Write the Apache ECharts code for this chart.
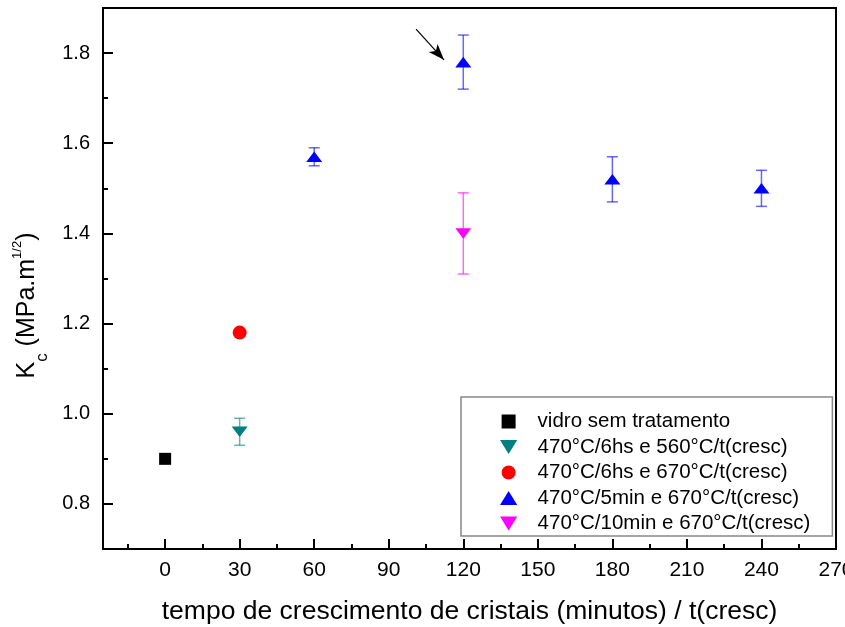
<!DOCTYPE html>
<html>
<head>
<meta charset="utf-8">
<script src="https://cdn.jsdelivr.net/npm/echarts@6/dist/echarts.min.js"></script>
<style>
  html, body { margin: 0; padding: 0; background: #fff; }
  #chart { width: 845px; height: 627px; }
</style>
</head>
<body>
<div id="chart"></div>
<script>
// Fracture toughness Kc versus crystal growth time, per heat-treatment route.
const seriesNames = [
  'vidro sem tratamento',
  '470°C/6hs e 560°C/t(cresc)',
  '470°C/6hs e 670°C/t(cresc)',
  '470°C/5min e 670°C/t(cresc)',
  '470°C/10min e 670°C/t(cresc)'
];

// Untreated glass
const tempoVidro = [0];
const kcVidro = [0.90];

// 470°C/6hs + 560°C
const tempo6h560 = [30];
const kc6h560 = [0.96];
const err6h560 = [0.03];

// 470°C/6hs + 670°C
const tempo6h670 = [30];
const kc6h670 = [1.18];

// 470°C/5min + 670°C
const tempo5min = [60, 120, 180, 240];
const kc5min = [1.57, 1.78, 1.52, 1.50];
const err5min = [0.02, 0.06, 0.05, 0.04];

// 470°C/10min + 670°C
const tempo10min = [120];
const kc10min = [1.40];
const err10min = [0.09];

// Axis ticks
const xMajorTicks = [0, 30, 60, 90, 120, 150, 180, 210, 240, 270];
const xMinorTicks = [-15, 15, 45, 75, 105, 135, 165, 195, 225, 255];
const yMajorTicks = [0.8, 1.0, 1.2, 1.4, 1.6, 1.8];
const yMinorTicks = [0.9, 1.1, 1.3, 1.5, 1.7];

// Arrow pointing at the maximum (data coordinates)
const arrowFrom = [101, 1.853];
const arrowTo = [112.2, 1.785];

const FONT = "'Liberation Sans', Arial, sans-serif";
const squareSym = 'path://M0,0L12,0L12,12L0,12Z';
const downTriangle = 'path://M0,0L16,0L8,13Z';
const upTriangle = 'path://M8,0L16,13L0,13Z';

function pairs(xs, ys) { return xs.map((x, i) => [x, ys[i]]); }
function errRows(xs, ys, es) { return xs.map((x, i) => [x, ys[i] - es[i], ys[i] + es[i]]); }

function errorBarSeries(rows, color) {
  return {
    type: 'custom',
    xAxisIndex: 0, yAxisIndex: 0,
    z: 1,
    silent: true,
    data: rows,
    renderItem: function (params, api) {
      const x = api.value(0);
      const lo = api.coord([x, api.value(1)]);
      const hi = api.coord([x, api.value(2)]);
      const half = 5.5;
      const style = { stroke: color, lineWidth: 1.5, opacity: 0.6 };
      return {
        type: 'group',
        children: [
          { type: 'line', shape: { x1: lo[0], y1: lo[1], x2: hi[0], y2: hi[1] }, style: style },
          { type: 'line', shape: { x1: lo[0] - half, y1: lo[1], x2: lo[0] + half, y2: lo[1] }, style: style },
          { type: 'line', shape: { x1: hi[0] - half, y1: hi[1], x2: hi[0] + half, y2: hi[1] }, style: style }
        ]
      };
    }
  };
}

const chart = echarts.init(document.getElementById('chart'), null, { renderer: 'canvas' });

const axisLineStyle = { color: '#000', width: 2 };

chart.setOption({
  animation: false,
  backgroundColor: '#fff',
  textStyle: { fontFamily: FONT },
  grid: {
    left: 103, top: 8, width: 733, height: 541,
    containLabel: false,
    outerBoundsMode: 'none',
    show: true, borderColor: '#000', borderWidth: 2, backgroundColor: 'transparent'
  },
  xAxis: [
    {
      type: 'value', min: -25, max: 270,
      axisLine: { show: true, onZero: false, lineStyle: axisLineStyle },
      axisTick: { show: true, inside: true, length: 10, lineStyle: { color: '#000', width: 2 }, customValues: xMajorTicks },
      axisLabel: { show: true, customValues: xMajorTicks, margin: 11, color: '#000', fontSize: 21, fontFamily: FONT },
      splitLine: { show: false },
      name: 'tempo de crescimento de cristais (minutos) / t(cresc)',
      nameLocation: 'middle', nameGap: 49,
      nameTextStyle: { fontSize: 26.5, color: '#000', fontFamily: FONT }
    },
    {
      type: 'value', min: -25, max: 270, position: 'bottom',
      axisLine: { show: false, onZero: false },
      axisTick: { show: true, inside: true, length: 5, lineStyle: { color: '#000', width: 2 }, customValues: xMinorTicks },
      axisLabel: { show: false },
      splitLine: { show: false }
    }
  ],
  yAxis: [
    {
      type: 'value', min: 0.7, max: 1.9,
      axisLine: { show: true, onZero: false, lineStyle: axisLineStyle },
      axisTick: { show: true, inside: true, length: 10, lineStyle: { color: '#000', width: 2 }, customValues: yMajorTicks },
      axisLabel: {
        show: true, customValues: yMajorTicks, margin: 13, color: '#000', fontSize: 20, fontFamily: FONT,
        formatter: v => v.toFixed(1)
      },
      splitLine: { show: false },
      name: '{a|K}{b|c}{a| (MPa.m}{c|1/2}{d|)}',
      nameLocation: 'middle', nameGap: 54, nameRotate: 90,
      nameTextStyle: {
        color: '#000', fontFamily: FONT,
        rich: {
          a: { fontSize: 25, lineHeight: 25, color: '#000', fontFamily: FONT, verticalAlign: 'middle' },
          b: { fontSize: 17, lineHeight: 16, color: '#000', fontFamily: FONT, verticalAlign: 'middle', padding: [32, 0, 0, 0] },
          c: { fontSize: 13, lineHeight: 12, color: '#000', fontFamily: FONT, verticalAlign: 'middle', padding: [0, 0, 18, 0] },
          d: { fontSize: 25, lineHeight: 25, color: '#000', fontFamily: FONT, verticalAlign: 'middle', padding: [0, 54, 0, 0] }
        }
      }
    },
    {
      type: 'value', min: 0.7, max: 1.9, position: 'left',
      axisLine: { show: false, onZero: false },
      axisTick: { show: true, inside: true, length: 5, lineStyle: { color: '#000', width: 2 }, customValues: yMinorTicks },
      axisLabel: { show: false },
      splitLine: { show: false }
    }
  ],
  legend: {
    orient: 'vertical',
    left: 461, top: 397,
    padding: [14, 22, 2, 39],
    itemWidth: 48, itemHeight: 14, itemGap: 4.5,
    symbolKeepAspect: true,
    borderColor: '#888', borderWidth: 1.5, borderRadius: 0,
    backgroundColor: '#fff',
    selectedMode: false,
    textStyle: { fontSize: 20.5, lineHeight: 20, color: '#000', fontFamily: FONT },
    data: seriesNames
  },
  series: [
    errorBarSeries(errRows(tempo6h560, kc6h560, err6h560), '#008080'),
    errorBarSeries(errRows(tempo5min, kc5min, err5min), '#0000ff'),
    errorBarSeries(errRows(tempo10min, kc10min, err10min), '#ff00ff'),
    {
      name: seriesNames[0], type: 'scatter', z: 3,
      symbol: squareSym, symbolSize: 12, symbolKeepAspect: true,
      itemStyle: { color: '#000', opacity: 1 },
      data: pairs(tempoVidro, kcVidro)
    },
    {
      name: seriesNames[1], type: 'scatter', z: 3,
      symbol: downTriangle, symbolSize: [16, 13], symbolKeepAspect: true,
      itemStyle: { color: '#008080', opacity: 1 },
      data: pairs(tempo6h560, kc6h560)
    },
    {
      name: seriesNames[2], type: 'scatter', z: 3,
      symbol: 'circle', symbolSize: 14,
      itemStyle: { color: '#ff0000', opacity: 1 },
      data: pairs(tempo6h670, kc6h670)
    },
    {
      name: seriesNames[3], type: 'scatter', z: 3,
      symbol: upTriangle, symbolSize: [16, 13], symbolKeepAspect: true,
      itemStyle: { color: '#0000ff', opacity: 1 },
      data: pairs(tempo5min, kc5min),
      markLine: {
        silent: true,
        symbol: ['none', 'arrow'],
        symbolSize: [9, 16],
        lineStyle: { color: '#000', width: 1.2, type: 'solid', opacity: 1 },
        label: { show: false },
        emphasis: { disabled: true },
        data: [[{ coord: arrowFrom }, { coord: arrowTo }]]
      }
    },
    {
      name: seriesNames[4], type: 'scatter', z: 3,
      symbol: downTriangle, symbolSize: [16, 13], symbolKeepAspect: true,
      itemStyle: { color: '#ff00ff', opacity: 1 },
      data: pairs(tempo10min, kc10min)
    }
  ]
});
</script>
</body>
</html>
